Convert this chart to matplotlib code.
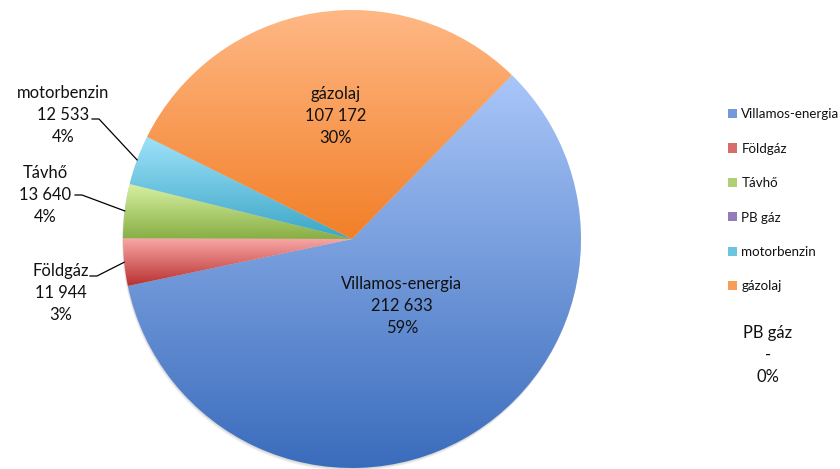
import numpy as np
import matplotlib
matplotlib.use("Agg")
import matplotlib.pyplot as plt
from matplotlib.patches import Patch, Circle
from matplotlib.colors import to_rgb

plt.rcParams['font.family'] = ['Lato', 'DejaVu Sans']

categories = ['Villamos-energia', 'Földgáz', 'Távhő', 'PB gáz', 'motorbenzin', 'gázolaj']
values = [212633, 11944, 13640, 0, 12533, 107172]
value_labels = ['212 633', '11 944', '13 640', '-', '12 533', '107 172']
pct_labels = ['59%', '3%', '4%', '0%', '4%', '30%']
light = ['#a9c6f8', '#f8a8a6', '#d8f2a4', '#bca8da', '#9fe2fa', '#ffb885']
dark = ['#3a6cbc', '#b8302f', '#88ae44', '#6a4c9c', '#3ba6c6', '#f27f28']

W, H = 840, 469
fig = plt.figure(figsize=(W / 100, H / 100), dpi=100)
ax = fig.add_axes([0, 0, 1, 1])

cx, cy, R = 352, H - 239, 229

# soft shadow
for off, a in [(3, 0.10), (2, 0.12), (1, 0.15)]:
    ax.add_patch(Circle((cx - off * 0.3, cy - off), R, color='#888888', alpha=a, lw=0, zorder=0))

wedges, _ = ax.pie(values, startangle=45.7, counterclock=False, center=(cx, cy), radius=R,
                   frame=True, wedgeprops=dict(linewidth=0))

for w, c1, c2 in zip(wedges, light, dark):
    if w.theta2 - w.theta1 <= 0:
        w.set_visible(False)
        continue
    ext = w.get_path().get_extents()
    n = 256
    t = np.linspace(0, 1, n)[:, None]
    a1, a2 = np.array(to_rgb(c1)), np.array(to_rgb(c2))
    grad = (a1 * (1 - t) + a2 * t)[:, None, :]
    im = ax.imshow(grad, extent=[ext.x0, ext.x1, ext.y0, ext.y1], origin='upper',
                   aspect='auto', interpolation='bilinear', zorder=1)
    w.set_facecolor('none')
    im.set_clip_path(w)

fs = 11.9
ls = 1.45
tc = '#111111'
# inner labels
ax.text(336, H - 116, f"{categories[5]}\n{value_labels[5]}\n{pct_labels[5]}", ha='center', va='center',
        fontsize=fs, linespacing=ls, color=tc)
ax.text(402, H - 306, f"{categories[0]}\n{value_labels[0]}\n{pct_labels[0]}", ha='center', va='center',
        fontsize=fs, linespacing=ls, color=tc)
# PB gáz label
ax.text(768, H - 355, f"{categories[3]}\n{value_labels[3]}\n{pct_labels[3]}", ha='center', va='center',
        fontsize=fs, linespacing=ls, color=tc)

# outside labels with leader lines
outside = {4: (63, 115), 2: (45, 195), 1: (61, 293)}
for i, (tx, ty) in outside.items():
    ax.text(tx, H - ty, f"{categories[i]}\n{value_labels[i]}\n{pct_labels[i]}", ha='center', va='center',
            fontsize=fs, linespacing=ls, color=tc)
for i, (lx, ly) in {4: (92, 119), 2: (75, 195), 1: (90, 276)}.items():
    w = wedges[i]
    mid = np.deg2rad((w.theta1 + w.theta2) / 2)
    ex, ey = cx + R * np.cos(mid), cy + R * np.sin(mid)
    ax.plot([lx, lx + 7, ex], [H - ly, H - ly, ey], color='black', lw=0.9, zorder=3)

handles = []
for l, d in zip(light, dark):
    m = (np.array(to_rgb(l)) + np.array(to_rgb(d))) / 2
    handles.append(Patch(facecolor=m, edgecolor='none'))
leg = ax.legend(handles, categories, loc='upper left', bbox_to_anchor=(723 / W, 1 - 103 / H),
                frameon=False, fontsize=9.6, labelspacing=1.68, handlelength=0.68, handleheight=0.68,
                handletextpad=0.3, borderaxespad=0)
for t in leg.get_texts():
    t.set_color(tc)

ax.set_xlim(0, W)
ax.set_ylim(0, H)
ax.set_aspect('equal')
ax.axis('off')
fig.savefig('out.png', dpi=100)
